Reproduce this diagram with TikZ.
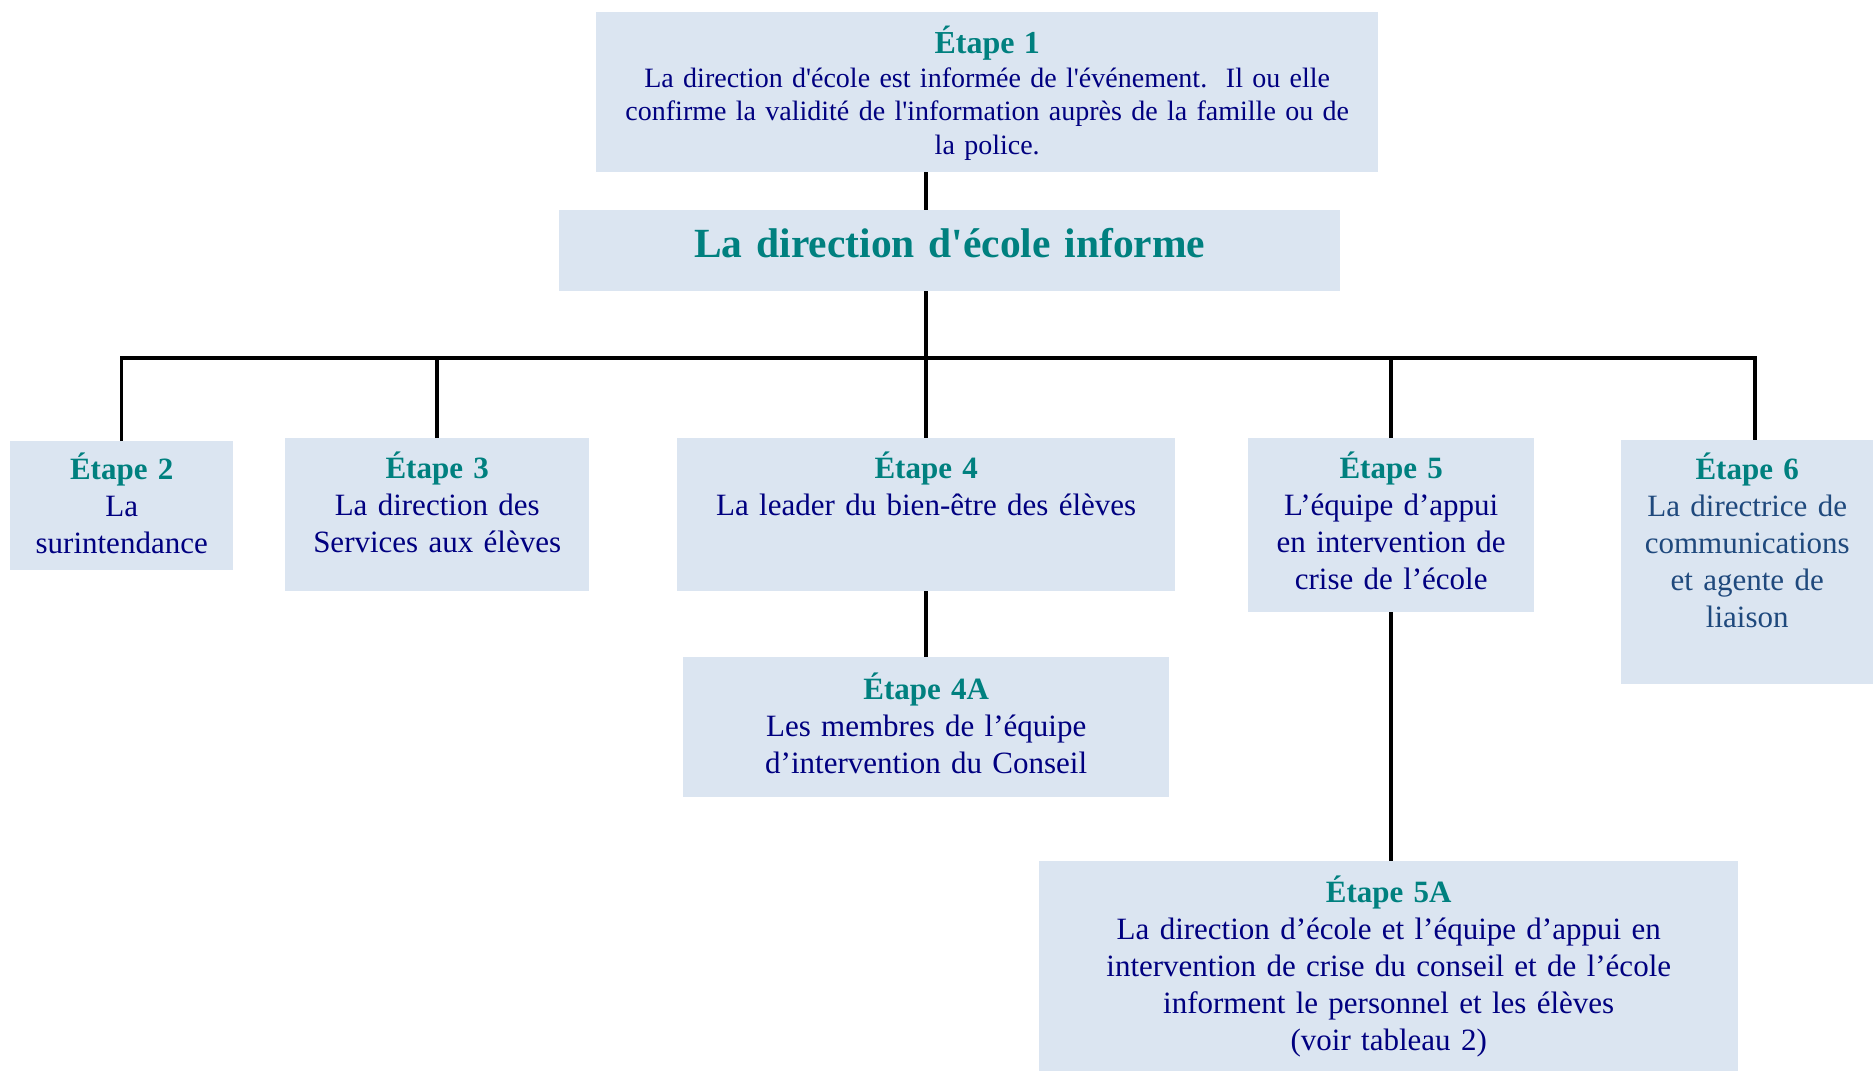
\documentclass[tikz,border=0pt]{standalone}
\usepackage{fontspec}
\setmainfont{Liberation Serif}
\usetikzlibrary{positioning}

\definecolor{boxblue}{HTML}{DBE5F1}
\definecolor{stepteal}{HTML}{00807F}
\definecolor{stepnavy}{HTML}{000080}
\definecolor{stepslate}{HTML}{1F497D}

\newcommand{\etape}[1]{{\bfseries\color{stepteal}Étape #1}}
\newcommand{\aps}{\textquotesingle}

\begin{document}
\begin{tikzpicture}[x=1pt,y=-1pt,
    stepbox/.style={fill=boxblue, inner sep=0pt, anchor=north west},
    steptext/.style={anchor=base, align=center, inner sep=0pt, text=stepnavy,
        font=\fontsize{31}{37}\selectfont},
    link/.style={line width=3.5pt}]

    \useasboundingbox (0,0) rectangle (1873,1073);

    % boxes
    \node[stepbox, minimum width=782pt, minimum height=160pt] (e1) at (596,12) {};
    \node[stepbox, minimum width=781pt, minimum height=81pt] (main) at (559,210) {};
    \node[stepbox, minimum width=223pt, minimum height=129pt] (e2) at (10,441) {};
    \node[stepbox, minimum width=304pt, minimum height=153pt] (e3) at (285,438) {};
    \node[stepbox, minimum width=498pt, minimum height=153pt] (e4) at (677,438) {};
    \node[stepbox, minimum width=486pt, minimum height=140pt] (e4a) at (683,657) {};
    \node[stepbox, minimum width=286pt, minimum height=174pt] (e5) at (1248,438) {};
    \node[stepbox, minimum width=252pt, minimum height=244pt] (e6) at (1621,440) {};
    \node[stepbox, minimum width=699pt, minimum height=210pt] (e5a) at (1039,861) {};

    % texts
    \node[steptext, text width=770pt, font=\fontsize{28}{33.4}\selectfont] (t1) at ([yshift=-42pt]e1.north)
        {{\fontsize{32}{33.4}\selectfont\etape{1}}\\
         La direction d\aps école est informée de l\aps événement.\ \ Il ou elle\\
         confirme la validité de l\aps information auprès de la famille ou de\\
         la police.};
    \node[steptext, text width=770pt, font=\fontsize{41.5}{48}\selectfont\bfseries, text=stepteal] (tmain)
        at ([yshift=-47pt]main.north) {La direction d\aps école informe};
    \node[steptext, text width=223pt] (t2) at ([yshift=-38pt]e2.north)
        {\etape{2}\\ La\\ surintendance};
    \node[steptext, text width=304pt] (t3) at ([yshift=-40pt]e3.north)
        {\etape{3}\\ La direction des\\ Services aux élèves};
    \node[steptext, text width=498pt] (t4) at ([yshift=-40pt]e4.north)
        {\etape{4}\\ La leader du bien-être des élèves};
    \node[steptext, text width=486pt] (t4a) at ([yshift=-42pt]e4a.north)
        {\etape{4A}\\ Les membres de l’équipe\\ d’intervention du Conseil};
    \node[steptext, text width=286pt] (t5) at ([yshift=-40pt]e5.north)
        {\etape{5}\\ L’équipe d’appui\\ en intervention de\\ crise de l’école};
    \node[steptext, text width=252pt, text=stepslate] (t6) at ([yshift=-39pt]e6.north)
        {\etape{6}\\ La directrice de\\ communications\\ et agente de\\ liaison};
    \node[steptext, text width=699pt] (t5a) at ([yshift=-41pt]e5a.north)
        {\etape{5A}\\ La direction d’école et l’équipe d’appui en\\
         intervention de crise du conseil et de l’école\\
         informent le personnel et les élèves\\ (voir tableau 2)};

    % connectors
    \coordinate (bar) at (0,358);
    \draw[link] (e1.south -| e4) -- (main.north -| e4);
    \draw[link] (main.south -| e4) -- (e4.north);
    \draw[link] (e2.north) |- ([xshift=8pt]e6.north |- bar) -- ([xshift=8pt]e6.north);
    \draw[link] (e3.north) -- (e3.north |- bar);
    \draw[link] (e5.north) -- (e5.north |- bar);
    \draw[link] (e4.south) -- (e4a.north -| e4);
    \draw[link] (e5.south) -- (e5a.north -| e5);

\end{tikzpicture}
\end{document}
